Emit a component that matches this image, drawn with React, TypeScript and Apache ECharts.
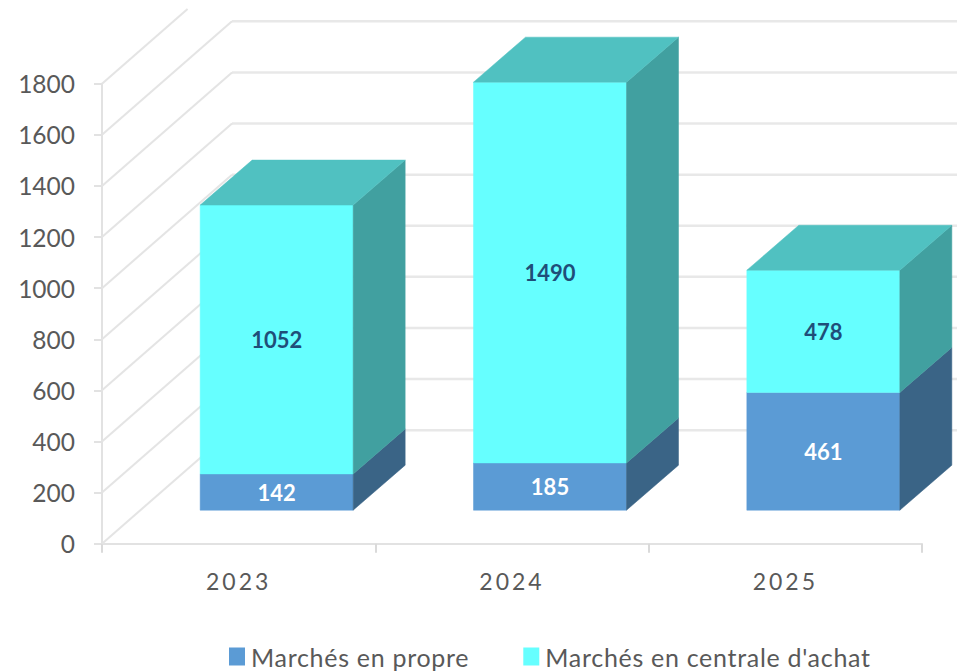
import React, { useEffect, useRef } from "react";
import * as echarts from "echarts";

const categories = ["2023", "2024", "2025"];
const enPropre = [142, 185, 461];
const enCentrale = [1052, 1490, 478];
const yTicks = [0, 200, 400, 600, 800, 1000, 1200, 1400, 1600, 1800];
const seriesNames = ["Marchés en propre", "Marchés en centrale d'achat"];

const FONT = "Lato, sans-serif";
const BAR_W = 153;
const BAR_DX = 38;
const BAR_DY = 33.5;
const DEPTH_X = 52;
const DEPTH_Y = 45;
const WALL_X = 130;
const WALL_Y = 113.5;
const TOP_CLIP = 9;

const poly = (points: number[][], fill: string, z2 = 0) => ({
  type: "polygon",
  z2,
  shape: { points },
  style: { fill, stroke: fill, lineWidth: 0.5 },
});

function barRenderer(front: string, side: string, top: string | null, labelColor: string) {
  return (_params: any, api: any) => {
    const cat = api.value(0);
    const start = api.value(1);
    const end = api.value(2);
    const p0 = api.coord([cat, start]);
    const p1 = api.coord([cat, end]);
    const xl = p0[0] + BAR_DX - BAR_W / 2;
    const xr = xl + BAR_W;
    const yb = p0[1] - BAR_DY;
    const yt = p1[1] - BAR_DY;
    const children: any[] = [
      poly([[xl, yb], [xr, yb], [xr, yt], [xl, yt]], front),
      poly([[xr, yb], [xr + DEPTH_X, yb - DEPTH_Y], [xr + DEPTH_X, yt - DEPTH_Y], [xr, yt]], side),
    ];
    if (top) {
      children.push(poly([[xl, yt], [xr, yt], [xr + DEPTH_X, yt - DEPTH_Y], [xl + DEPTH_X, yt - DEPTH_Y]], top));
    }
    children.push({
      type: "text",
      z2: 5,
      x: (xl + xr) / 2,
      y: (yb + yt) / 2,
      style: {
        text: String(end - start),
        fill: labelColor,
        font: `bold 22px ${FONT}`,
        align: "center",
        verticalAlign: "middle",
      },
    });
    return { type: "group", children };
  };
}

function wallRenderer(_params: any, api: any) {
  const v = api.value(1);
  const p = api.coord([0, v]);
  const x0 = p[0] - api.size([1, 0])[0] / 2;
  const y0 = p[1];
  let bx = x0 + WALL_X;
  let by = y0 - WALL_Y;
  const children: any[] = [];
  if (by < TOP_CLIP) {
    const t = (y0 - TOP_CLIP) / WALL_Y;
    bx = x0 + WALL_X * t;
    by = TOP_CLIP;
  } else {
    children.push({
      type: "line",
      shape: { x1: bx, y1: by, x2: api.getWidth(), y2: by },
      style: { stroke: "#E8E8E8", lineWidth: 2.5 },
    });
  }
  children.push({
    type: "line",
    shape: { x1: x0, y1: y0, x2: bx, y2: by },
    style: { stroke: "#E4E4E4", lineWidth: 2 },
  });
  return { type: "group", children };
}

export default function App() {
  const ref = useRef<HTMLDivElement>(null);
  useEffect(() => {
    const chart = echarts.init(ref.current!, undefined, { renderer: "svg" });
    const cum0 = enPropre.map((v, i) => [i, 0, v]);
    const cum1 = enCentrale.map((v, i) => [i, enPropre[i], enPropre[i] + v]);
    chart.setOption({
      animation: false,
      backgroundColor: "#ffffff",
      grid: { left: 102, right: 35, top: 83.7, bottom: 128.3, containLabel: false, outerBoundsMode: "none" },
      legend: {
        data: seriesNames,
        left: 224,
        top: 639,
        icon: "rect",
        itemWidth: 16,
        itemHeight: 18,
        itemGap: 66,
        textStyle: { color: "#595959", fontFamily: FONT, fontSize: 25, padding: [0, 0, 0, 1] },
      },
      xAxis: {
        type: "category",
        data: categories,
        axisLine: { lineStyle: { color: "#E2E2E2", width: 2 } },
        axisTick: { show: true, length: 9, lineStyle: { color: "#DADADA", width: 2 } },
        axisLabel: { color: "#595959", fontFamily: FONT, fontSize: 23, margin: 26 },
      },
      yAxis: {
        type: "value",
        min: 0,
        max: 1800,
        interval: 200,
        splitLine: { show: false },
        axisLine: { show: true, lineStyle: { color: "#E2E2E2", width: 2 } },
        axisTick: { show: true, length: 8, lineStyle: { color: "#E2E2E2", width: 2 } },
        axisLabel: {
          color: "#595959",
          fontFamily: FONT,
          fontSize: 24.5,
          margin: 27,
          formatter: (v: number) => String(v),
        },
      },
      series: [
        {
          type: "custom",
          name: "walls",
          z: 1,
          silent: true,
          encode: { x: 0, y: 1 },
          data: yTicks.map((v) => [0, v]),
          renderItem: wallRenderer,
        },
        {
          type: "custom",
          name: seriesNames[0],
          z: 3,
          itemStyle: { color: "#5B9BD5" },
          encode: { x: 0, y: [1, 2] },
          data: cum0,
          renderItem: barRenderer("#5B9BD5", "#3A6486", null, "#FFFFFF"),
        },
        {
          type: "custom",
          name: seriesNames[1],
          z: 3,
          itemStyle: { color: "#66FFFF" },
          encode: { x: 0, y: [1, 2] },
          data: cum1,
          renderItem: barRenderer("#66FFFF", "#41A0A0", "#50C1C1", "#1F4E79"),
        },
      ],
    });
    ref.current!.querySelectorAll("text").forEach((t) => {
      const s = (t.textContent || "").trim();
      if (categories.includes(s)) {
        t.style.letterSpacing = "3px";
      } else if (seriesNames.includes(s)) {
        t.style.letterSpacing = "0.7px";
      }
    });
    return () => chart.dispose();
  }, []);
  return <div ref={ref} style={{ position: "absolute", left: 0, top: 0, width: 957, height: 672 }} />;
}
